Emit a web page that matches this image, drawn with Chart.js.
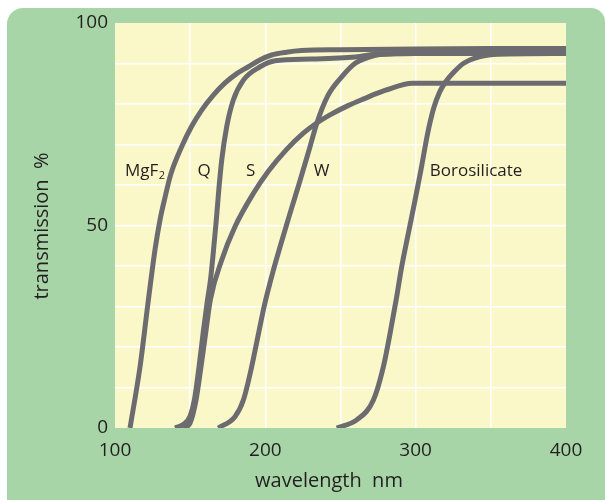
<!DOCTYPE html>
<html lang="en">
<head>
  <meta charset="UTF-8" />
  <title>Transmission of window materials</title>
  <script src="https://cdn.jsdelivr.net/npm/chart.js"></script>
  <style>
    html, body { margin: 0; padding: 0; background: #fff; }
    .panel {
      position: absolute;
      left: 7px;
      top: 8px;
      width: 598px;
      height: 492px;
      background: #a8d5a7;
      border-radius: 16px 14px 0 0;
    }
    .chart-box {
      position: absolute;
      left: 0;
      top: 0;
      width: 605px;
      height: 500px;
    }
  </style>
</head>
<body>
  <div class="panel"></div>
  <div class="chart-box">
    <canvas id="transChart"></canvas>
  </div>

  <script>
    // wavelength (nm) / transmission (%)
    const mgf2Nm = [110, 116.6, 122.2, 126.6, 130, 133, 137, 144.4, 151, 157.7, 165, 173.2, 181, 188.7, 196, 204.2, 214, 224.2, 250, 300, 350, 400];
    const mgf2T  = [0, 15, 31.6, 44, 51.5, 56.5, 62.5, 69.5, 74.5, 78.5, 82, 85.2, 87.5, 89.2, 90.8, 92.1, 92.8, 93.2, 93.4, 93.6, 93.7, 93.7];

    const quartzNm = [140, 146, 150, 152.8, 155.9, 158.6, 161.5, 163.5, 165.3, 167.3, 169.1, 171, 174.3, 178.7, 185.4, 196.5, 206.5, 230, 260, 276, 300, 400];
    const quartzT  = [0, 1, 3, 6.9, 15.1, 23.4, 31.6, 36.5, 43, 51, 59, 66.2, 74.4, 81, 85.9, 89.2, 90.7, 91.1, 91.6, 92.4, 92.5, 92.5];

    const sapphNm = [145.5, 149.9, 153.9, 157.2, 160.3, 163.4, 171, 179.8, 192, 202, 214.2, 225.3, 234.2, 243, 255, 265, 280, 298, 400];
    const sapphT  = [0, 1.2, 6.9, 15.1, 23.4, 31.6, 41.5, 49.7, 57.9, 63.4, 68.8, 72.8, 75.3, 77.3, 79.6, 81.2, 83.4, 85.1, 85.1];

    const uvGlassNm = [168.7, 179.8, 185.4, 190.9, 195.5, 199.5, 205, 210, 216, 223, 229, 234.2, 241.5, 250.8, 259.6, 268.5, 276, 300, 400];
    const uvGlassT  = [0, 2.8, 6.9, 15.1, 23.4, 30.5, 38.5, 45, 52.5, 61, 68.5, 75.2, 82, 86.7, 90, 91.5, 92.2, 92.5, 92.5];

    const boroNm = [247.5, 260.8, 271.9, 278.5, 283, 287, 290.7, 295.1, 299.6, 303.5, 308, 312, 316, 320, 325, 331.7, 342.9, 355, 400];
    const boroT  = [0, 2, 6.9, 15.1, 23.4, 31.6, 39.8, 48, 56.3, 63.7, 72.8, 79, 83, 85.5, 87.7, 90, 91.7, 92.3, 92.5];

    const curveNames = ['MgF2', 'Q', 'S', 'W', 'Borosilicate'];
    const xTicksShown = [100, 200, 300, 400];
    const yTicksShown = [0, 50, 100];

    const LINE = '#6c6c70';
    const TEXT = '#231f20';
    const FONT = '"Open Sans", "DejaVu Sans", sans-serif';

    function pts(xs, ys) {
      return xs.map((x, i) => ({ x: x, y: ys[i] }));
    }

    function series(label, xs, ys) {
      return {
        label: label,
        data: pts(xs, ys),
        showLine: true,
        borderColor: LINE,
        borderWidth: 5,
        pointRadius: 0,
        fill: false,
        cubicInterpolationMode: 'monotone',
        borderJoinStyle: 'round'
      };
    }

    // yellow plot background
    const plotBg = {
      id: 'plotBg',
      beforeDraw(chart) {
        const { ctx, chartArea: a } = chart;
        ctx.save();
        ctx.fillStyle = '#faf7c8';
        ctx.fillRect(a.left, a.top, a.right - a.left, a.bottom - a.top);
        ctx.restore();
      }
    };

    // curve names and axis titles
    const labelsPlugin = {
      id: 'curveLabels',
      afterDatasetsDraw(chart) {
        const { ctx } = chart;
        const xs = chart.scales.x, ys = chart.scales.y;
        const base = ys.getPixelForValue(62.2);
        ctx.save();
        ctx.fillStyle = TEXT;
        ctx.textBaseline = 'alphabetic';
        ctx.font = '17px ' + FONT;

        // MgF2 with subscript
        ctx.textAlign = 'left';
        const mx = xs.getPixelForValue(106.7);
        ctx.fillText('MgF', mx, base);
        const w = ctx.measureText('MgF').width;
        ctx.font = '11px ' + FONT;
        ctx.fillText('2', mx + w + 0.5, base + 3);

        ctx.font = '17px ' + FONT;
        ctx.textAlign = 'center';
        ctx.fillText(curveNames[1], xs.getPixelForValue(159.3), base);
        ctx.fillText(curveNames[2], xs.getPixelForValue(190.2), base);
        ctx.fillText(curveNames[3], xs.getPixelForValue(237.5), base);
        ctx.fillText(curveNames[4], xs.getPixelForValue(340.2), base);

        // axis titles
        ctx.font = '20px ' + FONT;
        ctx.fillText('wavelength  nm', 329, 487);
        ctx.translate(48, 226);
        ctx.rotate(-Math.PI / 2);
        ctx.fillText('transmission  %', 0, 0);
        ctx.restore();
      }
    };

    const hideEdge = (lo, hi) => c =>
      (c.tick && (c.tick.value === lo || c.tick.value === hi)) ? 'rgba(0,0,0,0)' : '#ffffff';

    new Chart(document.getElementById('transChart').getContext('2d'), {
      type: 'scatter',
      data: {
        datasets: [
          series(curveNames[0], mgf2Nm, mgf2T),
          series(curveNames[1], quartzNm, quartzT),
          series(curveNames[2], sapphNm, sapphT),
          series(curveNames[3], uvGlassNm, uvGlassT),
          series(curveNames[4], boroNm, boroT)
        ]
      },
      options: {
        responsive: true,
        maintainAspectRatio: false,
        animation: false,
        layout: { padding: { left: 0, right: 39, top: 23, bottom: 0 } },
        plugins: {
          legend: { display: false },
          tooltip: { enabled: false }
        },
        scales: {
          x: {
            type: 'linear',
            min: 100,
            max: 400,
            border: { display: false },
            grid: { color: hideEdge(100, 400), lineWidth: 1.5, drawTicks: false },
            ticks: {
              stepSize: 50,
              padding: 11,
              color: TEXT,
              font: { family: FONT, size: 19 },
              maxRotation: 0,
              autoSkip: false,
              callback: v => xTicksShown.includes(v) ? v : ''
            },
            afterFit: s => { s.height = 72; }
          },
          y: {
            min: 0,
            max: 100,
            border: { display: false },
            grid: { color: hideEdge(0, 100), lineWidth: 1.5, drawTicks: false },
            ticks: {
              stepSize: 10,
              padding: 7,
              color: TEXT,
              font: { family: FONT, size: 19 },
              autoSkip: false,
              callback: v => yTicksShown.includes(v) ? v : ''
            },
            afterFit: s => { s.width = 115; }
          }
        }
      },
      plugins: [plotBg, labelsPlugin]
    });
  </script>
</body>
</html>
